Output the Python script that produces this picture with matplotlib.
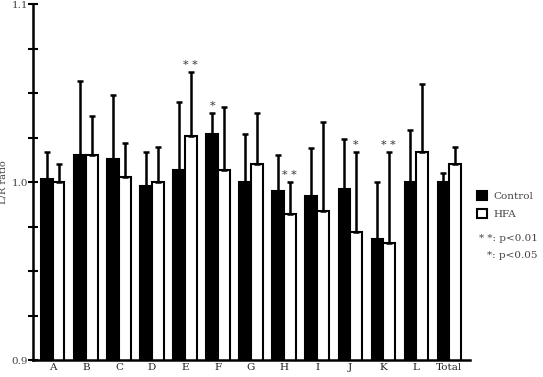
import matplotlib.pyplot as plt
import numpy as np

groups = ['A', 'B', 'C', 'D', 'E', 'F', 'G', 'H', 'I', 'J', 'K', 'L', 'Total']
control = [1.002, 1.015, 1.013, 0.998, 1.007, 1.027, 1.000, 0.995, 0.992, 0.996, 0.968, 1.000, 1.000]
control_sd = [0.015, 0.042, 0.036, 0.019, 0.038, 0.012, 0.027, 0.020, 0.027, 0.028, 0.032, 0.029, 0.005]
hfa = [1.000, 1.015, 1.003, 1.000, 1.026, 1.007, 1.010, 0.982, 0.984, 0.972, 0.966, 1.017, 1.010]
hfa_sd = [0.010, 0.022, 0.019, 0.020, 0.036, 0.035, 0.029, 0.018, 0.050, 0.045, 0.051, 0.038, 0.010]
# significance marks: (group index, which series, label)
marks = [(4, 'hfa', '* *'), (5, 'control', '*'), (7, 'hfa', '* *'), (9, 'hfa', '*'), (10, 'hfa', '* *')]

plt.rcParams['font.family'] = ['DejaVu Serif']

fig = plt.figure(figsize=(5.43, 3.77), dpi=100)
ax = fig.add_axes([0.061, 0.045, 0.805, 0.944])

x = np.arange(len(groups))
w = 0.35
err_kw = dict(lw=1.8, capsize=2.5, capthick=1.8, ecolor='black')
b1 = ax.bar(x - w / 2, control, w, color='black', edgecolor='black', linewidth=1.5,
            yerr=[np.zeros(len(x)), control_sd], error_kw=err_kw, label='Control')
b2 = ax.bar(x + w / 2, hfa, w, color='white', edgecolor='black', linewidth=1.5,
            yerr=[np.zeros(len(x)), hfa_sd], error_kw=err_kw, label='HFA')

for i, which, lab in marks:
    if which == 'hfa':
        xx, top = x[i] + w / 2, hfa[i] + hfa_sd[i]
    else:
        xx, top = x[i] - w / 2, control[i] + control_sd[i]
    ax.text(xx, top + 0.001, lab, ha='center', va='bottom', fontsize=8, color='#333333')

ax.set_ylim(0.9, 1.1)
ax.set_xlim(-0.6, 12.64)
ax.set_yticks([0.9, 1.0, 1.1])
ax.set_yticklabels(['0.9', '1.0', '1.1'])
ax.set_yticks(np.arange(0.9, 1.1001, 0.025), minor=True)
ax.tick_params(axis='y', which='both', direction='inout', length=7, width=1.5,
               labelsize=7.5, labelcolor='#444444', pad=0)
ax.set_xticks(x)
ax.set_xticklabels(groups)
ax.tick_params(axis='x', length=0, labelsize=7.5, labelcolor='#222222', pad=2)
ax.set_ylabel('L/R ratio', fontsize=7, color='#444444', labelpad=3)
ax.spines['top'].set_visible(False)
ax.spines['right'].set_visible(False)
ax.spines['left'].set_linewidth(1.8)
ax.spines['bottom'].set_linewidth(1.8)

leg = ax.legend(handles=[b1, b2], loc='upper left', bbox_to_anchor=(0.995, 0.50),
                frameon=False, fontsize=7.5, handlelength=0.9, handleheight=0.9,
                handletextpad=0.6, labelspacing=0.75)
for t in leg.get_texts():
    t.set_color('#444444')
fig.text(0.99, 0.368, '* *: p<0.01', ha='right', va='center', fontsize=7.5, color='#444444')
fig.text(0.99, 0.321, '*: p<0.05', ha='right', va='center', fontsize=7.5, color='#444444')

fig.savefig('out.png', dpi=100)
